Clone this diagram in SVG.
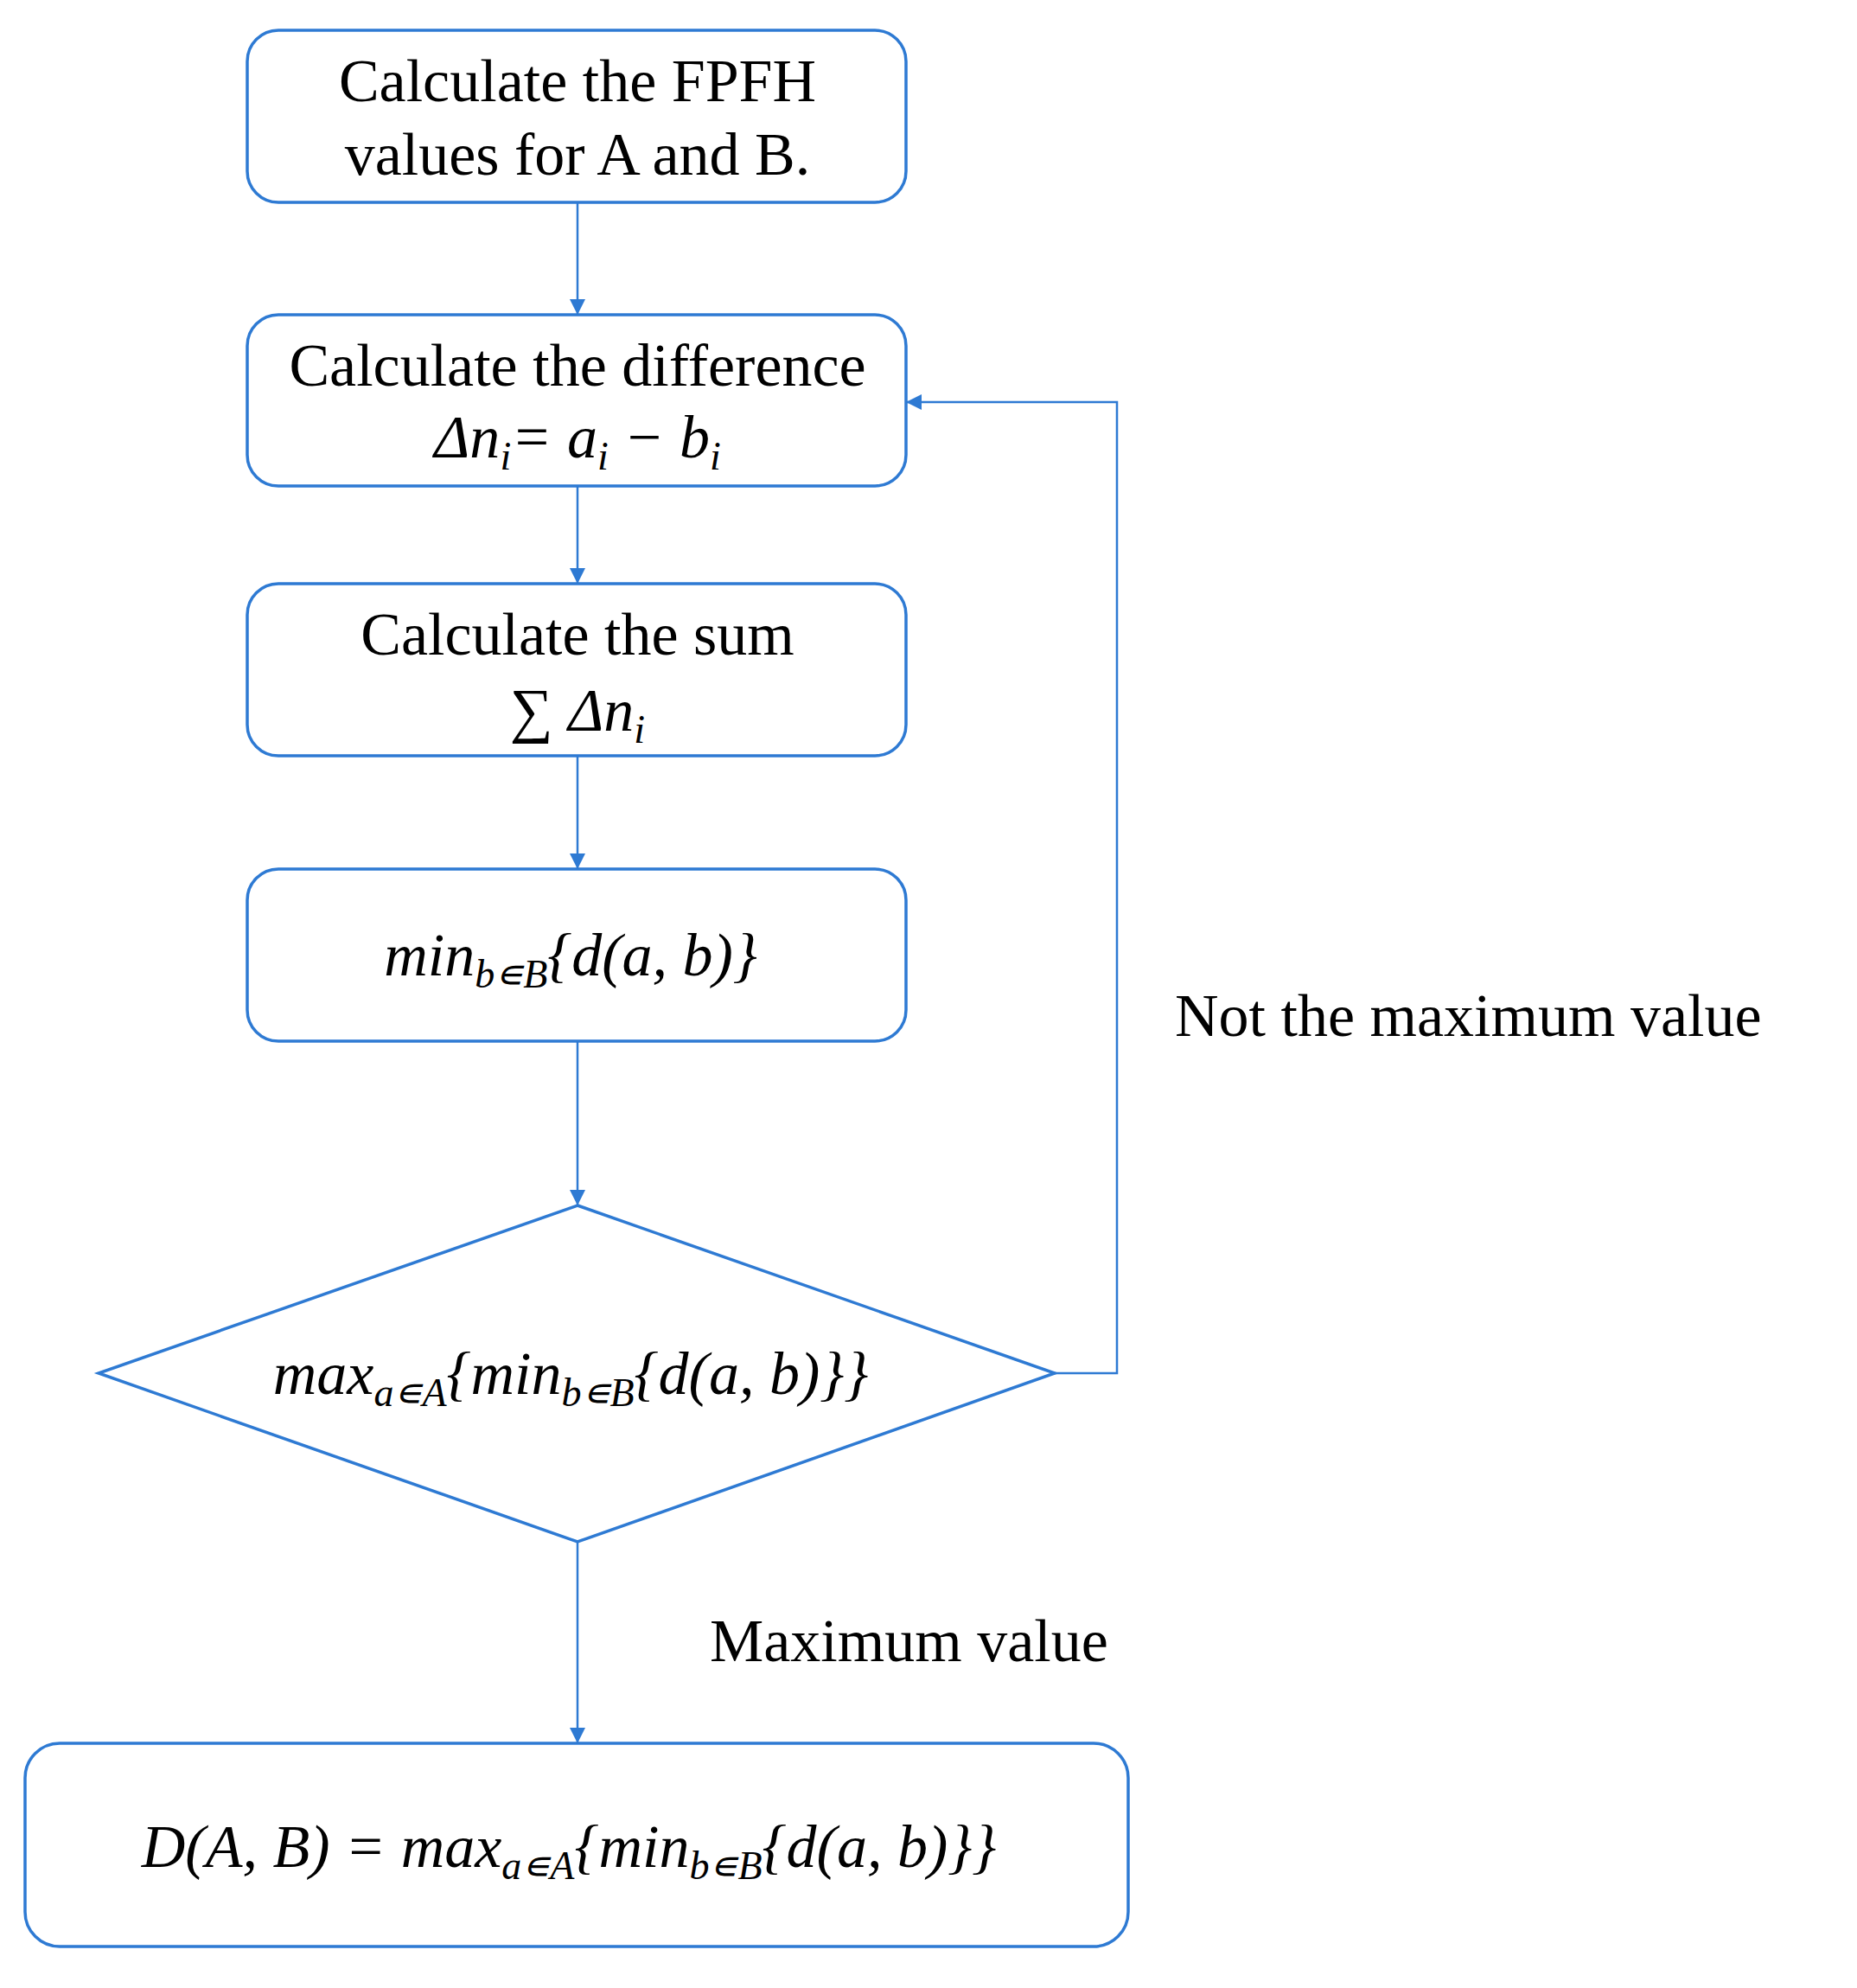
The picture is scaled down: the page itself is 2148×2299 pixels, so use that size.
<svg xmlns="http://www.w3.org/2000/svg" width="2148" height="2299" viewBox="0 0 2148 2299">
<style>
.n{fill:#fff;stroke:#2E7AD3;stroke-width:3.5}
.c{fill:none;stroke:#2E7AD3;stroke-width:2.5}
text{font-family:"Liberation Serif","DejaVu Serif",serif;font-size:70px;fill:#000;text-anchor:middle}
.m{font-style:italic}
.s{font-size:46px}
.l{text-anchor:start}
</style>
<defs><marker id="a" markerWidth="10" markerHeight="10" refX="9" refY="5" orient="auto" markerUnits="userSpaceOnUse" viewBox="0 0 10 10"><path d="M0,0L10,5L0,10z" fill="#2E7AD3" transform="scale(1)"/></marker>
<marker id="b" viewBox="0 0 10 10" refX="10" refY="5" markerWidth="20" markerHeight="18" orient="auto" markerUnits="userSpaceOnUse"><path d="M0,0L10,5L0,10z" fill="#2E7AD3"/></marker></defs>
<g id="connectors">
<path class="c" d="M668,234V364" marker-end="url(#b)"/>
<path class="c" d="M668,562V675" marker-end="url(#b)"/>
<path class="c" d="M668,874V1005" marker-end="url(#b)"/>
<path class="c" d="M668,1204V1394" marker-end="url(#b)"/>
<path class="c" d="M668,1783V2016" marker-end="url(#b)"/>
<path class="c" d="M1220,1588H1292V465H1048" marker-end="url(#b)"/>
</g>
<g id="n1"><rect class="n" x="286" y="35" width="762" height="199" rx="36"/><text x="668" y="117">Calculate the FPFH</text><text x="668" y="202">values for A and B.</text></g>
<g id="n2"><rect class="n" x="286" y="364" width="762" height="198" rx="36"/><text x="668" y="446">Calculate the difference</text><text x="668" y="529" class="m">Δn<tspan class="s" dy="14">i</tspan><tspan dy="-14">= a</tspan><tspan class="s" dy="14">i</tspan><tspan dy="-14"> − b</tspan><tspan class="s" dy="14">i</tspan></text></g>
<g id="n3"><rect class="n" x="286" y="675" width="762" height="199" rx="36"/><text x="668" y="757">Calculate the sum</text><text x="668" y="845" class="m"><tspan font-style="normal">∑ </tspan>Δn<tspan class="s" dy="14">i</tspan></text></g>
<g id="n4"><rect class="n" x="286" y="1005" width="762" height="199" rx="36"/><text x="660" y="1128" class="m">min<tspan class="s" dy="14">b∊B</tspan><tspan dy="-14">{d(a, b)}</tspan></text></g>
<g id="n5"><polygon class="n" points="668,1394 1220,1588 668,1783 114,1588"/><text x="660" y="1612" class="m">max<tspan class="s" dy="14">a∊A</tspan><tspan dy="-14">{min</tspan><tspan class="s" dy="14">b∊B</tspan><tspan dy="-14">{d(a, b)}}</tspan></text></g>
<g id="n6"><rect class="n" x="29" y="2016" width="1276" height="235" rx="40"/><text x="658" y="2159" class="m">D(A, B) = max<tspan class="s" dy="14">a∊A</tspan><tspan dy="-14">{min</tspan><tspan class="s" dy="14">b∊B</tspan><tspan dy="-14">{d(a, b)}}</tspan></text></g>
<g id="labels"><text class="l" x="1359" y="1198">Not the maximum value</text><text class="l" x="821" y="1921">Maximum value</text></g>
</svg>
